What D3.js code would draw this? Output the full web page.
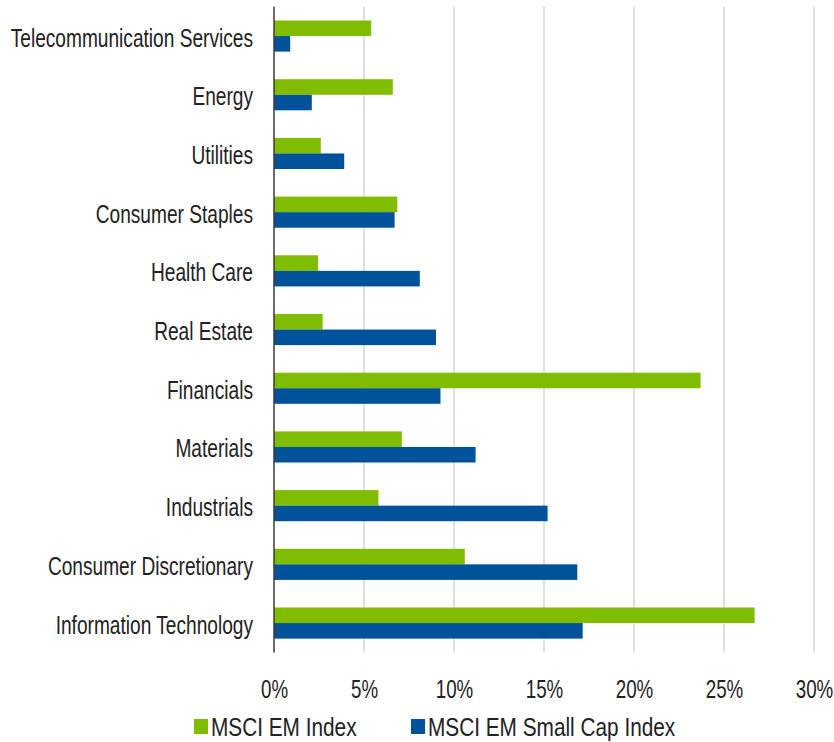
<!DOCTYPE html>
<html>
<head>
<meta charset="utf-8">
<script src="https://cdn.jsdelivr.net/npm/d3@7"></script>
<style>
  body { margin: 0; background: #fff; }
  text { font-family: 'Liberation Sans Narrow', 'Arial Narrow', 'Liberation Sans', Arial, sans-serif; fill: #222; }
</style>
</head>
<body>
<div id="graphContainer"></div>
<script>
let sectors = [
  'Telecommunication Services',
  'Energy',
  'Utilities',
  'Consumer Staples',
  'Health Care',
  'Real Estate',
  'Financials',
  'Materials',
  'Industrials',
  'Consumer Discretionary',
  'Information Technology',
]
let emIndex = [5.4, 6.6, 2.6, 6.85, 2.45, 2.7, 23.7, 7.1, 5.8, 10.6, 26.7]
let emSmallCap = [0.9, 2.1, 3.9, 6.7, 8.1, 9.0, 9.25, 11.2, 15.2, 16.85, 17.15]
let seriesNames = ['MSCI EM Index', 'MSCI EM Small Cap Index']
let tickValues = [0, 5, 10, 15, 20, 25, 30]

let colors = ['#80bc00', '#00539b']

let svgWidth = 834,
  svgHeight = 742
let plot = { left: 274, right: 814, top: 6.7, bottom: 652.4 }
// the original uses a tall narrow face, squeeze the regular one sideways
let squeeze = 0.765

let svg = d3
  .select('#graphContainer')
  .append('svg')
  .attr('width', svgWidth)
  .attr('height', svgHeight)

let x = d3.scaleLinear().domain([0, 30]).range([plot.left, plot.right])
let y = d3
  .scaleBand()
  .domain(sectors)
  .range([plot.top, plot.bottom])
  .paddingInner(0.47)
  .paddingOuter(0.235)

// gridlines
svg
  .append('g')
  .selectAll('line')
  .data(tickValues.slice(1))
  .enter()
  .append('line')
  .attr('x1', (d) => x(d))
  .attr('x2', (d) => x(d))
  .attr('y1', plot.top)
  .attr('y2', plot.bottom)
  .attr('stroke', '#d0d0d0')
  .attr('stroke-width', 1.3)

// x tick labels
let xAxis = d3
  .axisBottom(x)
  .tickValues(tickValues)
  .tickSize(0)
  .tickPadding(0)
  .tickFormat((d) => d + '%')

svg
  .append('g')
  .attr('transform', 'translate(0,' + 698 + ')')
  .call(xAxis)
  .call((g) => g.select('.domain').remove())
  .selectAll('text')
  .attr('dy', 0)
  .attr('y', 0)
  .attr('transform', 'scale(0.75,1)')
  .style('font-size', '25px')
  .attr('fill', '#222')

// bars
let bh = y.bandwidth() / 2
let rows = sectors.map((s, i) => ({ sector: s, values: [emIndex[i], emSmallCap[i]] }))

let groups = svg
  .append('g')
  .selectAll('g')
  .data(rows)
  .enter()
  .append('g')
  .attr('transform', (d) => 'translate(0,' + y(d.sector) + ')')

groups
  .selectAll('rect')
  .data((d) => d.values)
  .enter()
  .append('rect')
  .attr('x', x(0))
  .attr('y', (d, i) => i * bh)
  .attr('width', (d) => x(d) - x(0))
  .attr('height', bh)
  .attr('fill', (d, i) => colors[i])

// y axis line + category labels
let yAxis = d3.axisLeft(y).tickSize(0).tickPadding(0)

svg
  .append('g')
  .attr('transform', 'translate(' + x(0) + ',0)')
  .call(yAxis)
  .call((g) => g.select('.domain').remove())
  .selectAll('text')
  .attr('x', -21 / squeeze)
  .attr('dy', '0.42em')
  .attr('transform', 'scale(' + squeeze + ',1)')
  .style('font-size', '25px')
  .attr('fill', '#222')

svg
  .append('line')
  .attr('x1', x(0))
  .attr('x2', x(0))
  .attr('y1', plot.top)
  .attr('y2', plot.bottom)
  .attr('stroke', '#3a3a3a')
  .attr('stroke-width', 1.5)

// legend
let legendX = [194, 411]
let legend = svg
  .append('g')
  .selectAll('g')
  .data(seriesNames)
  .enter()
  .append('g')
  .attr('transform', (d, i) => 'translate(' + legendX[i] + ',719)')

legend
  .append('rect')
  .attr('width', 14)
  .attr('height', 15)
  .attr('fill', (d, i) => colors[i])

legend
  .append('text')
  .attr('transform', 'translate(17,17) scale(0.8,1)')
  .style('font-size', '26px')
  .text((d) => d)
</script>
</body>
</html>
